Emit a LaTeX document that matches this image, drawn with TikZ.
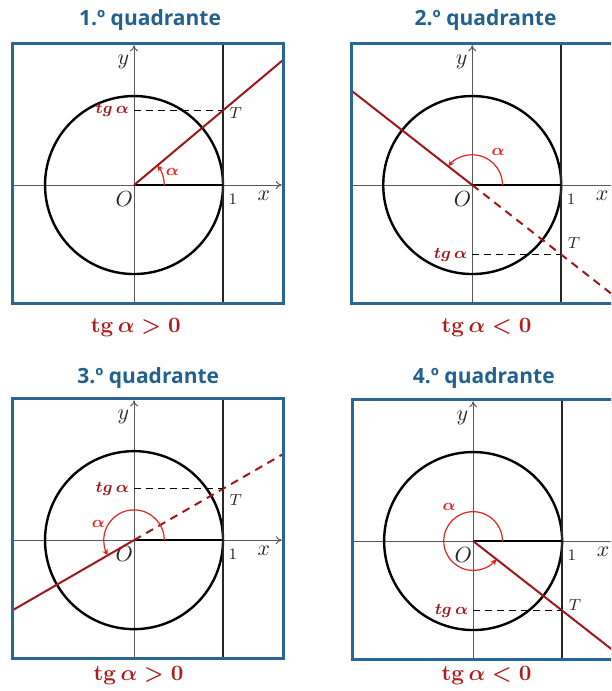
\documentclass[tikz,border=0pt]{standalone}
\usepackage{fontspec}
\usepackage{amsmath}
\usetikzlibrary{arrows.meta,shadows}
\newfontfamily\titlefont{Open Sans}
\definecolor{quadblue}{HTML}{22608E}
\definecolor{frameblue}{HTML}{2B6593}
\definecolor{raired}{HTML}{A0171B}
\definecolor{arcred}{HTML}{E0261F}
\definecolor{signred}{HTML}{B01C1C}

\tikzset{
  quadbg/.style={fill=white, drop shadow={shadow xshift=0.8pt, shadow yshift=-0.8pt, fill=black!45, opacity=0.5}},
  quadframe/.style={draw=frameblue, line width=1.5pt},
  axis/.style={draw=black!65, line width=0.5pt, -{To[length=3pt,width=4pt]}},
  circ/.style={draw=black, line width=1.2pt},
  tanline/.style={draw=black!85, line width=1.2pt},
  unitseg/.style={draw=black, line width=1pt},
  ray/.style={draw=raired, line width=1pt},
  rayext/.style={ray, dash pattern=on 4pt off 3pt},
  guide/.style={draw=black, line width=0.7pt, dash pattern=on 3.5pt off 2.5pt},
  anglearc/.style={draw=arcred, line width=0.6pt, -{Stealth[length=3pt,width=3pt]}},
  titlelbl/.style={font=\titlefont\bfseries\fontsize{10.5}{12}\selectfont, text=quadblue},
  signlbl/.style={font=\boldmath\fontsize{10.5}{12}\selectfont, text=signred},
  tglbl/.style={font=\boldmath\fontsize{8.5}{10}\selectfont, text=raired, anchor=east, inner sep=1pt},
  alphalbl/.style={font=\boldmath\fontsize{8.5}{10}\selectfont, text=arcred, inner sep=0pt},
  axlbl/.style={font=\fontsize{11}{13}\selectfont, inner sep=0pt, text=black!85},
  smalllbl/.style={font=\fontsize{8.5}{10}\selectfont, inner sep=0pt, text=black!85},
}

% frame, axes, circle and tangent line of one panel
\newcommand{\quadbase}{%
  \fill[quadbg] (-1.36,-1.33) rectangle (1.68,1.59);
  \coordinate (O) at (0,0);
  \coordinate (U) at (1,0);
  \coordinate (xl) at (-1.36,0);
  \coordinate (xr) at (1.66,0);
  \coordinate (yb) at (0,-1.33);
  \coordinate (yt) at (0,1.57);
  \coordinate (tb) at (1,-1.33);
  \coordinate (tt) at (1,1.59);
  \draw[axis] (xl) -- (xr);
  \draw[axis] (yb) -- (yt);
  \draw[circ] (O) circle (1);
  \draw[tanline] (tb) -- (tt);
  \draw[unitseg] (O) -- (U);
  \node[axlbl] (Olbl) at (-0.11,-0.16) {$O$};
  \node[smalllbl] (umlbl) at (1.11,-0.16) {$1$};
  \node[axlbl] (xlbl) at (1.46,-0.12) {$x$};
  \node[axlbl] (ylbl) at (-0.12,1.38) {$y$};
}

\begin{document}
\begin{tikzpicture}[x=44.5pt, y=44.5pt]
  \useasboundingbox (-1.506,-5.685) rectangle (5.36,2.079);
  \clip (-1.506,-5.685) rectangle (5.36,2.079);

  % 1.o quadrante
  \begin{scope}[name prefix=q1-]
    \quadbase
    \coordinate (T) at (1,{tan(40)});
    \coordinate (tg) at (0,{tan(40)});
    \coordinate (far) at (40:2.3);
    \begin{scope}
      \clip (-1.36,-1.33) rectangle (1.68,1.59);
      \draw[ray] (O) -- (far);
    \end{scope}
    \draw[guide] (tg) -- (T);
    \draw[anglearc] (0.34,0) arc[start angle=0, end angle=40, radius=0.34];
    \node[alphalbl] (alpha) at (0.43,0.15) {$\alpha$};
    \node[tglbl] (tglbl) at (-0.03,{tan(40)}) {$tg\,\alpha$};
    \node[smalllbl, anchor=west] (Tlbl) at (1.07,0.81) {$T$};
    \draw[quadframe] (-1.36,-1.33) rectangle (1.68,1.59);
    \node[titlelbl] (titulo) at (0.18,1.85) {1.º quadrante};
    \node[signlbl] (sinal) at (0.02,-1.60) {$\mathbf{tg}\,\alpha>0$};
  \end{scope}

  % 2.o quadrante
  \begin{scope}[shift={(3.80,0)}, name prefix=q2-]
    \quadbase
    \coordinate (T) at (1,{tan(142)});
    \coordinate (tg) at (0,{tan(142)});
    \coordinate (far) at (142:2.5);
    \coordinate (back) at (-38:2.5);
    \begin{scope}
      \clip (-1.36,-1.33) rectangle (1.68,1.59);
      \draw[ray] (O) -- (far);
      \draw[rayext] (O) -- (back);
    \end{scope}
    \draw[guide] (tg) -- (T);
    \draw[anglearc] (0.34,0) arc[start angle=0, end angle=142, radius=0.34];
    \node[alphalbl] (alpha) at (0.29,0.37) {$\alpha$};
    \node[tglbl] (tglbl) at (-0.03,{tan(142)}) {$tg\,\alpha$};
    \node[smalllbl, anchor=west] (Tlbl) at (1.07,-0.65) {$T$};
    \draw[quadframe] (-1.36,-1.33) rectangle (1.68,1.59);
    \node[titlelbl] (titulo) at (0.15,1.85) {2.º quadrante};
    \node[signlbl] (sinal) at (0.16,-1.60) {$\mathbf{tg}\,\alpha<0$};
  \end{scope}

  % 3.o quadrante
  \begin{scope}[shift={(0,-3.99)}, name prefix=q3-]
    \quadbase
    \coordinate (T) at (1,{tan(210)});
    \coordinate (tg) at (0,{tan(210)});
    \coordinate (far) at (210:2.5);
    \coordinate (back) at (30:2.5);
    \begin{scope}
      \clip (-1.36,-1.33) rectangle (1.68,1.59);
      \draw[ray] (O) -- (far);
      \draw[rayext] (O) -- (back);
    \end{scope}
    \draw[guide] (tg) -- (T);
    \draw[anglearc] (0.34,0) arc[start angle=0, end angle=210, radius=0.34];
    \node[alphalbl] (alpha) at (-0.40,0.18) {$\alpha$};
    \node[tglbl] (tglbl) at (-0.03,{tan(210)}) {$tg\,\alpha$};
    \node[smalllbl, anchor=west] (Tlbl) at (1.07,0.45) {$T$};
    \draw[quadframe] (-1.36,-1.33) rectangle (1.68,1.59);
    \node[titlelbl] (titulo) at (0.16,1.82) {3.º quadrante};
    \node[signlbl] (sinal) at (0.05,-1.52) {$\mathbf{tg}\,\alpha>0$};
  \end{scope}

  % 4.o quadrante
  \begin{scope}[shift={(3.81,-4.0)}, name prefix=q4-]
    \quadbase
    \coordinate (T) at (1,{tan(322)});
    \coordinate (tg) at (0,{tan(322)});
    \coordinate (far) at (-38:2.5);
    \begin{scope}
      \clip (-1.36,-1.33) rectangle (1.68,1.59);
      \draw[ray] (O) -- (far);
    \end{scope}
    \draw[guide] (tg) -- (T);
    \draw[anglearc] (0.33,0) arc[start angle=0, end angle=322, radius=0.33];
    \node[alphalbl] (alpha) at (-0.27,0.38) {$\alpha$};
    \node[tglbl] (tglbl) at (-0.03,{tan(322)}) {$tg\,\alpha$};
    \node[smalllbl, anchor=west] (Tlbl) at (1.07,-0.72) {$T$};
    \draw[quadframe] (-1.36,-1.33) rectangle (1.68,1.59);
    \node[titlelbl] (titulo) at (0.12,1.83) {4.º quadrante};
    \node[signlbl] (sinal) at (0.15,-1.51) {$\mathbf{tg}\,\alpha<0$};
  \end{scope}
\end{tikzpicture}
\end{document}
